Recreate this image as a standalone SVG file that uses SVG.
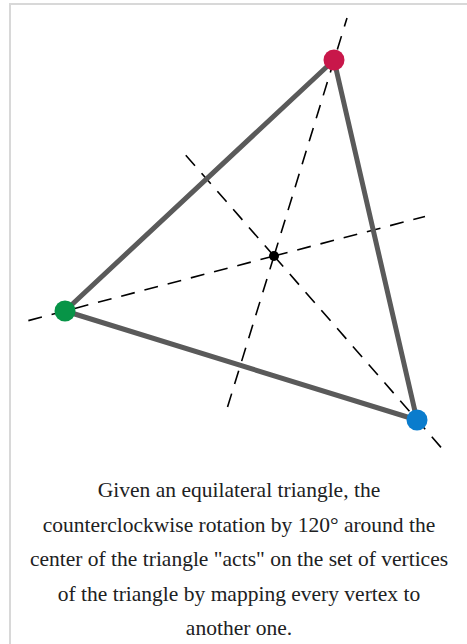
<svg xmlns="http://www.w3.org/2000/svg" width="467" height="644" viewBox="0 0 467 644">
<style>
.frame{fill:#fff;stroke:#d8d8d8;stroke-width:2}
.axis{stroke:#000;stroke-width:1.6;stroke-dasharray:14 10;fill:none}
.edge{stroke:#5a5a5a;stroke-width:5;fill:none;stroke-linejoin:round}
.cap{font-family:'Liberation Serif','Times New Roman',Times,serif;font-size:21.5px;fill:#202122;text-anchor:middle}
</style>
<rect class="frame" x="10" y="4" width="470" height="660"/>
<g id="axes">
<line class="axis" x1="274" y1="256" x2="347" y2="18"/>
<line class="axis" x1="274" y1="256" x2="226" y2="412"/>
<line class="axis" x1="274" y1="256" x2="25" y2="321.5"/>
<line class="axis" x1="274" y1="256" x2="425" y2="216.5"/>
<line class="axis" x1="274" y1="256" x2="183" y2="152"/>
<line class="axis" x1="274" y1="256" x2="445" y2="452"/>
</g>
<g id="edges">
<polygon class="edge" points="334,60 65,311 417,420"/>
</g>
<g id="center"><circle cx="274" cy="256" r="5" fill="#000"/></g>
<g id="vertex-red"><circle cx="334" cy="60" r="10.5" fill="#c8174a"/></g>
<g id="vertex-green"><circle cx="65" cy="311" r="10.5" fill="#079447"/></g>
<g id="vertex-blue"><circle cx="417" cy="420" r="10.5" fill="#0a7ccd"/></g>
<g id="caption">
<text class="cap" x="239" y="497">Given an equilateral triangle, the</text>
<text class="cap" x="239" y="532">counterclockwise rotation by 120° around the</text>
<text class="cap" x="239" y="566">center of the triangle "acts" on the set of vertices</text>
<text class="cap" x="239" y="601">of the triangle by mapping every vertex to</text>
<text class="cap" x="239" y="635">another one.</text>
</g>
</svg>
